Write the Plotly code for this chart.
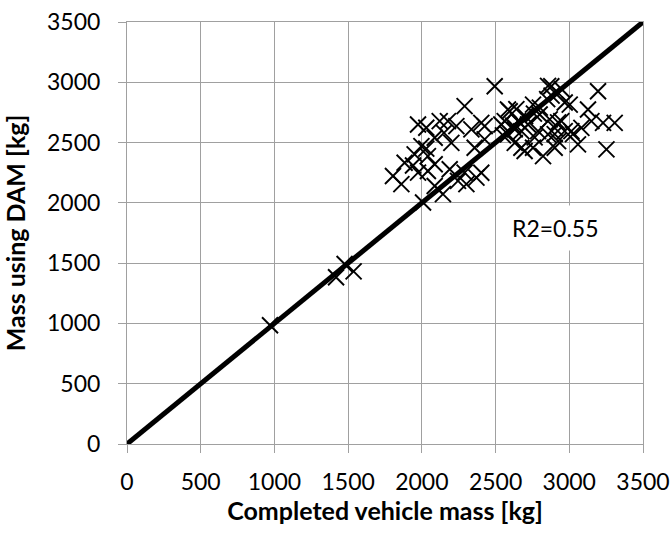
import plotly.graph_objects as go

# Completed vehicle mass vs. mass estimated with DAM, both in kg
completed_mass = [
    970, 1418, 1476, 1537,
    1804, 1861, 1883, 1940, 1951, 1974, 1974, 1997, 2008, 2030, 2030, 2041, 2041,
    2087, 2087, 2087, 2121, 2143, 2150, 2177, 2189, 2200, 2234, 2245, 2290, 2290,
    2302, 2336, 2358, 2370, 2403, 2403, 2426, 2426,
    2494, 2539, 2550, 2562, 2584, 2584, 2596, 2620, 2630, 2630, 2641, 2652, 2664,
    2675, 2675, 2697, 2700, 2720, 2754, 2754, 2760, 2765, 2788, 2799, 2800, 2822,
    2850, 2856, 2856, 2867, 2878, 2880, 2901, 2901, 2901, 2924, 2924, 2924, 2946,
    2950, 2969, 2969, 3025,
    3003, 3014, 3059, 3082, 3127, 3150, 3195, 3229, 3252, 3308,
]
dam_mass = [
    985, 1383, 1493, 1432,
    2223, 2155, 2333, 2310, 2402, 2251, 2650, 2471, 2003, 2623, 2450, 2388, 2264,
    2540, 2320, 2140, 2678, 2072, 2580, 2678, 2279, 2498, 2636, 2182, 2802, 2251,
    2155, 2609, 2457, 2209, 2664, 2250, 2636, 2527,
    2967, 2650, 2560, 2678, 2774, 2568, 2760, 2640, 2609, 2498, 2777, 2678, 2667,
    2457, 2595, 2430, 2720, 2650, 2815, 2457, 2740, 2543, 2595, 2733, 2790, 2388,
    2860, 2970, 2568, 2692, 2967, 2890, 2622, 2457, 2570, 2912, 2667, 2512, 2678,
    2940, 2832, 2595, 2570,
    2815, 2595, 2485, 2622, 2774, 2678, 2926, 2664, 2444, 2664,
]

# 1:1 reference line
line_x = [0, 3500]
line_y = [0, 3500]

tick_vals = [0, 500, 1000, 1500, 2000, 2500, 3000, 3500]
r2_text = "R2=0.55"

grid_col = "#A0A0A0"
font_family = "Lato, Carlito, Calibri, sans-serif"

fig = go.Figure()
fig.add_trace(go.Scatter(
    x=completed_mass, y=dam_mass, mode="markers",
    marker=dict(symbol="x-thin-open", size=16, color="black",
                line=dict(color="black", width=1.9)),
    showlegend=False,
))
fig.add_trace(go.Scatter(
    x=line_x, y=line_y, mode="lines",
    line=dict(color="black", width=5),
    showlegend=False,
))

axis_common = dict(
    range=[0, 3500], tickvals=tick_vals, ticktext=[str(v) for v in tick_vals],
    showgrid=True, gridcolor=grid_col, gridwidth=1,
    showline=True, linecolor=grid_col, linewidth=1, mirror=True,
    ticks="outside", ticklen=8, tickcolor=grid_col, tickwidth=1,
    zeroline=False, automargin=False,
    tickfont=dict(family=font_family, size=23, color="black"),
)

fig.update_xaxes(
    **axis_common,
    ticklabelstandoff=9,
    title=dict(text="<b>Completed vehicle mass [kg]</b>", standoff=0,
               font=dict(family=font_family, size=25, color="black")),
)
fig.update_yaxes(
    **axis_common,
    ticklabelstandoff=13,
    title=dict(text="<b>Mass using DAM [kg]</b>", standoff=14,
               font=dict(family=font_family, size=25, color="black")),
)

fig.add_annotation(
    x=2908, y=1790, xref="x", yref="y", text=r2_text, showarrow=False,
    font=dict(family=font_family, size=23, color="black"),
    bgcolor="white", borderpad=8,
)

fig.update_layout(
    width=671, height=533,
    margin=dict(l=127, r=28, t=22, b=89),
    paper_bgcolor="white", plot_bgcolor="white",
)

fig.write_html("out.html")
